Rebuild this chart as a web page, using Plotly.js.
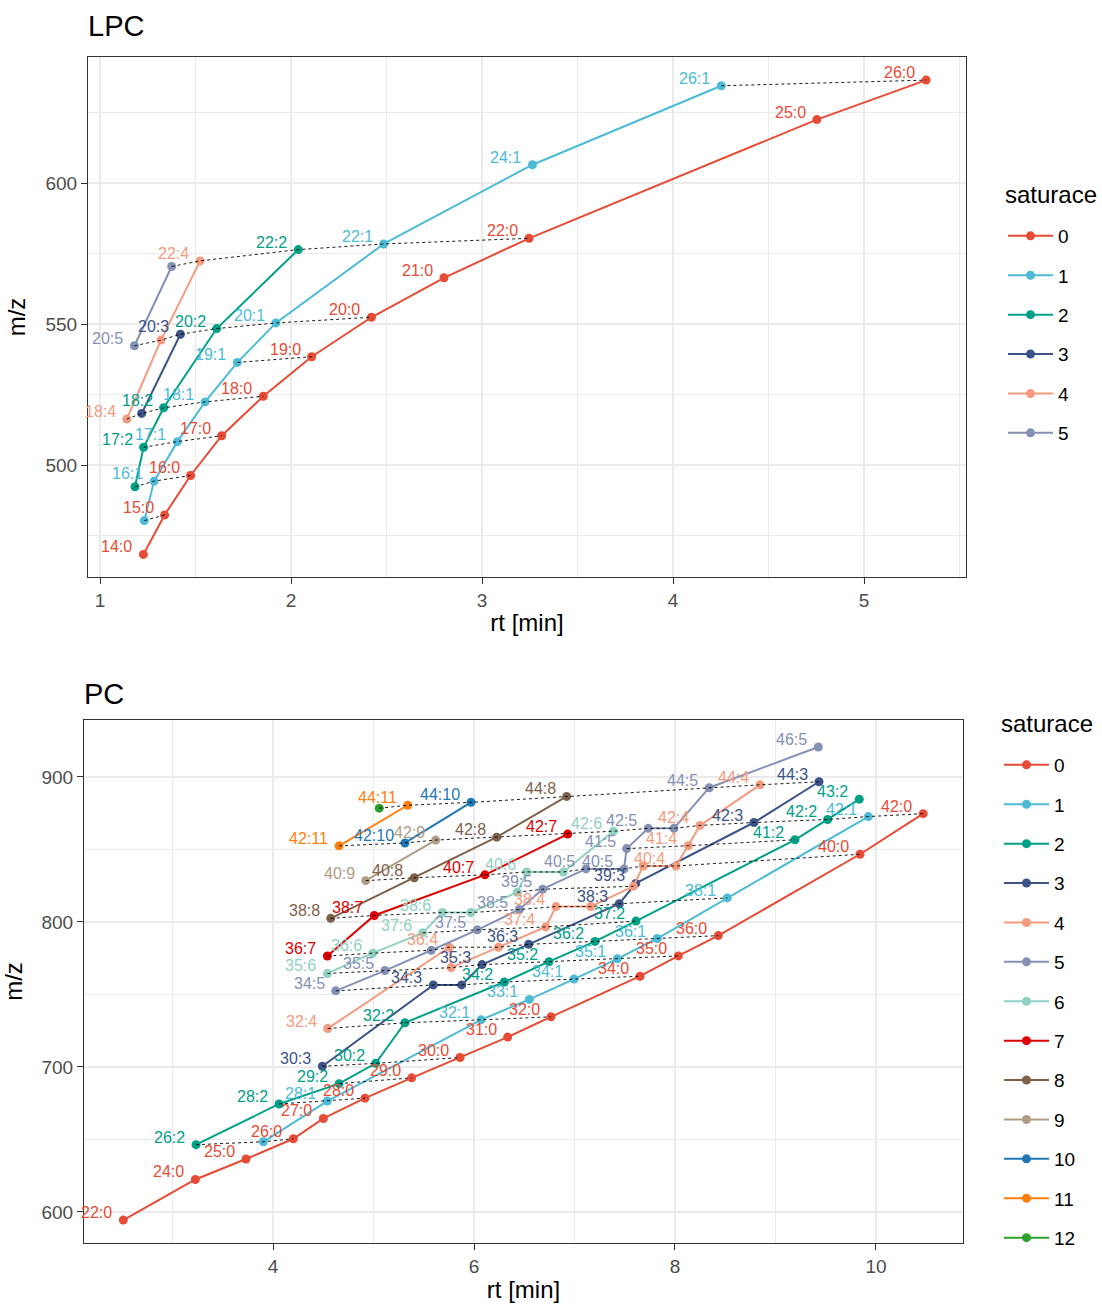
<!DOCTYPE html>
<html><head><meta charset="utf-8">
<script src="https://cdn.plot.ly/plotly-3.0.1.min.js"></script>
<style>html,body{margin:0;padding:0;background:#fff}</style>
</head><body><div id="chart" style="width:1102px;height:1304px"></div>
<script>
// colours per saturation (number of double bonds)
const satColors = ['#E64B35','#4DBBD5','#00A087','#3C5488','#F39B7F','#8491B4','#91D1C2','#DC0000','#7E6148','#B09C85','#1F77B4','#FF7F0E','#2CA02C'];

// ---------- LPC ----------
const lpcLipids = ['14:0','15:0','16:0','17:0','18:0','19:0','20:0','21:0','22:0','25:0','26:0',
  '15:1','16:1','17:1','18:1','19:1','20:1','22:1','24:1','26:1',
  '16:2','17:2','18:2','20:2','22:2',
  '18:3','20:3',
  '18:4','20:4','22:4',
  '20:5','22:5'];
const lpcRt = [1.227,1.338,1.474,1.637,1.855,2.108,2.421,2.801,3.246,4.753,5.325,
  1.232,1.283,1.405,1.550,1.719,1.921,2.485,3.264,4.253,
  1.183,1.228,1.333,1.611,2.038,
  1.218,1.421,
  1.140,1.319,1.524,
  1.180,1.375];
const lpcMz = [468.3,482.3,496.3,510.4,524.4,538.4,552.4,566.4,580.4,622.5,636.5,
  480.3,494.3,508.3,522.4,536.4,550.4,578.4,606.5,634.5,
  492.3,506.3,520.3,548.4,576.4,
  518.3,546.4,
  516.3,544.3,572.4,
  542.3,570.4];
const lpcLabelShown = [1,1,1,1,1,1,1,1,1,1,1,
  0,1,1,1,1,1,1,1,1,
  0,1,1,1,1,
  0,1,
  1,0,1,
  1,0];

// ---------- PC ----------
const pcLipids = [
  '22:0','24:0','25:0','26:0','27:0','28:0','29:0','30:0','31:0','32:0','34:0','35:0','36:0','40:0','42:0',
  '26:1','28:1','32:1','33:1','34:1','35:1','36:1','38:1','42:1',
  '26:2','28:2','29:2','30:2','32:2','34:2','35:2','36:2','37:2','41:2','42:2','43:2',
  '30:3','34:3','34:3','35:3','36:3','38:3','39:3','42:3','44:3',
  '32:4','36:4','35:4','36:4','37:4','38:4','38:4','39:4','40:4','40:4','41:4','42:4','44:4',
  '34:5','35:5','36:5','37:5','38:5','39:5','40:5','40:5','41:5','42:5','42:5','44:5','46:5',
  '35:6','36:6','37:6','38:6','38:6','39:6','40:6','40:6','42:6',
  '36:7','38:7','40:7','42:7',
  '38:8','40:8','42:8','44:8',
  '40:9','42:9',
  '42:10','44:10',
  '42:11','44:11',
  '44:12'];
const pcRt = [
  2.510,3.227,3.731,4.202,4.501,4.915,5.380,5.861,6.335,6.766,7.652,8.033,8.431,9.841,10.470,
  3.904,4.540,6.070,6.551,6.995,7.426,7.824,8.520,9.924,
  3.234,4.060,4.657,5.022,5.313,6.302,6.746,7.204,7.612,9.194,9.519,9.834,
  4.491,5.595,5.877,6.080,6.544,7.446,7.610,8.786,9.433,
  4.544,5.754,5.771,6.243,6.713,6.816,7.161,7.585,7.685,8.010,8.133,8.249,8.846,
  4.624,5.114,5.575,6.033,6.451,6.683,7.114,7.493,7.519,7.734,7.990,8.341,9.426,
  4.541,4.992,5.489,5.685,5.970,6.431,6.524,6.889,7.386,
  4.541,5.008,6.109,6.932,
  4.574,5.406,6.226,6.922,
  4.922,5.619,
  5.313,5.970,
  4.657,5.340,
  5.057];
const pcMz = [
  594.4,622.4,636.5,650.5,664.5,678.5,692.5,706.5,720.6,734.6,762.6,776.6,790.6,846.7,874.7,
  648.4,676.5,732.5,746.6,760.6,774.6,788.6,816.6,872.7,
  646.4,674.5,688.5,702.5,730.5,758.6,772.6,786.6,800.6,856.7,870.7,884.7,
  700.5,756.6,756.6,770.6,784.6,812.6,826.6,868.6,896.7,
  726.5,782.6,768.5,782.6,796.6,810.6,810.6,824.6,838.6,838.6,852.6,866.6,894.6,
  752.5,766.5,780.5,794.6,808.6,822.6,836.6,836.6,850.6,864.6,864.6,892.6,920.7,
  764.5,778.5,792.5,806.5,806.5,820.5,834.5,834.5,862.6,
  776.5,804.5,832.5,860.6,
  802.5,830.5,858.5,886.6,
  828.5,856.5,
  854.5,882.5,
  852.5,880.5,
  878.5];
const pcLabelShown = [
  1,1,1,1,1,1,1,1,1,1,1,1,1,1,1,
  0,1,1,1,1,1,1,1,1,
  1,1,1,1,1,1,1,1,1,1,1,1,
  1,1,0,1,1,1,1,1,1,
  1,1,0,0,1,1,0,0,0,1,1,1,1,
  1,1,0,1,1,1,1,1,1,1,0,1,1,
  1,1,1,1,0,0,1,0,1,
  1,1,1,1,
  1,1,1,1,
  1,1,
  1,1,
  1,1,
  0];

const FONT = '"Liberation Sans", Arial, sans-serif';

function buildPanel(lipids, rt, mz, shown, xa, ya, leg) {
  const series = [], dashed = [], annots = [];
  const bySat = {}, byC = {};
  lipids.forEach((n, i) => {
    const [c, s] = n.split(':').map(Number);
    (bySat[s] = bySat[s] || []).push(i);
    (byC[c] = byC[c] || []).push(i);
  });
  Object.keys(bySat).map(Number).sort((a, b) => a - b).forEach(s => {
    const idx = bySat[s].slice().sort((a, b) => rt[a] - rt[b]);
    series.push({
      type: 'scatter', mode: 'lines+markers',
      x: idx.map(i => rt[i]), y: idx.map(i => mz[i]), text: idx.map(i => lipids[i]),
      name: String(s), legendgroup: leg + '_' + s, legend: leg,
      xaxis: xa, yaxis: ya,
      line: {color: satColors[s], width: 2},
      marker: {color: satColors[s], size: 9},
      hovertemplate: '%{text}<br>rt %{x}<br>m/z %{y}<extra></extra>'
    });
  });
  Object.keys(byC).map(Number).sort((a, b) => a - b).forEach(c => {
    const idx = byC[c].slice().sort((a, b) => rt[a] - rt[b]);
    if (idx.length < 2) return;
    dashed.push({
      type: 'scatter', mode: 'lines', showlegend: false, legend: leg,
      x: idx.map(i => rt[i]), y: idx.map(i => mz[i]),
      xaxis: xa, yaxis: ya,
      line: {color: '#000000', width: 0.9, dash: '3px,3px'},
      hoverinfo: 'skip'
    });
  });
  lipids.forEach((n, i) => {
    if (!shown[i]) return;
    const s = Number(n.split(':')[1]);
    annots.push({
      xref: xa, yref: ya, x: rt[i], y: mz[i], text: n, showarrow: false,
      xanchor: 'right', yanchor: 'bottom', xshift: -9, yshift: -3,
      font: {family: FONT, size: 16, color: satColors[s]}
    });
  });
  return {traces: series.concat(dashed), annots};
}

const lpc = buildPanel(lpcLipids, lpcRt, lpcMz, lpcLabelShown, 'x', 'y', 'legend');
const pc = buildPanel(pcLipids, pcRt, pcMz, pcLabelShown, 'x2', 'y2', 'legend2');

function axisBase() {
  return {
    showgrid: true, gridcolor: '#EBEBEB', gridwidth: 2,
    zeroline: false, showline: true, mirror: true, linecolor: '#333333', linewidth: 1.2,
    ticks: 'outside', ticklen: 6, tickwidth: 1.2, tickcolor: '#333333',
    tickfont: {family: FONT, size: 19, color: '#4D4D4D'}
  };
}
const W = 1102, H = 1304;
const legendBase = {
  xanchor: 'left', yanchor: 'top',
  font: {family: FONT, size: 19, color: '#000'}, tracegroupgap: 11.7, itemwidth: 45,
  bgcolor: 'rgba(0,0,0,0)', traceorder: 'grouped'
};
const layout = {
  width: W, height: H, margin: {l: 0, r: 0, t: 0, b: 0},
  paper_bgcolor: '#ffffff', plot_bgcolor: '#ffffff',
  font: {family: FONT, color: '#000000'},
  showlegend: true,
  xaxis: Object.assign(axisBase(), {
    domain: [88 / W, 966 / W], anchor: 'y', range: [0.937, 5.534], tick0: 1, dtick: 1,
    minor: {dtick: 0.5, showgrid: true, gridcolor: '#EBEBEB', gridwidth: 1},
    title: {text: 'rt [min]', font: {family: FONT, size: 24, color: '#000'}, standoff: 4}
  }),
  yaxis: Object.assign(axisBase(), {
    domain: [1 - 577 / H, 1 - 57 / H], anchor: 'x', range: [460.3, 644.7], tick0: 500, dtick: 50,
    minor: {dtick: 25, showgrid: true, gridcolor: '#EBEBEB', gridwidth: 1},
    title: {text: 'm/z', font: {family: FONT, size: 24, color: '#000'}, standoff: 12}
  }),
  xaxis2: Object.assign(axisBase(), {
    domain: [84 / W, 963 / W], anchor: 'y2', range: [2.119, 10.866], tick0: 0, dtick: 2,
    minor: {dtick: 1, showgrid: true, gridcolor: '#EBEBEB', gridwidth: 1},
    title: {text: 'rt [min]', font: {family: FONT, size: 24, color: '#000'}, standoff: 5}
  }),
  yaxis2: Object.assign(axisBase(), {
    domain: [1 - 1243 / H, 1 - 720 / H], anchor: 'x2', range: [578.6, 939.3], tick0: 600, dtick: 100,
    minor: {dtick: 50, showgrid: true, gridcolor: '#EBEBEB', gridwidth: 1},
    title: {text: 'm/z', font: {family: FONT, size: 24, color: '#000'}, standoff: 12}
  }),
  legend: Object.assign({}, legendBase, {x: 1003 / W, y: 1 - 217 / H}),
  legend2: Object.assign({}, legendBase, {x: 999 / W, y: 1 - 746 / H}),
  annotations: [
    {xref: 'paper', yref: 'paper', x: 86 / W, y: 1 - 26 / H, xanchor: 'left', yanchor: 'middle', showarrow: false,
     text: 'LPC', font: {family: FONT, size: 29, color: '#000'}},
    {xref: 'paper', yref: 'paper', x: 82 / W, y: 1 - 694 / H, xanchor: 'left', yanchor: 'middle', showarrow: false,
     text: 'PC', font: {family: FONT, size: 29, color: '#000'}},
    {xref: 'paper', yref: 'paper', x: 1003 / W, y: 1 - 194 / H, xanchor: 'left', yanchor: 'middle', showarrow: false,
     text: 'saturace', font: {family: FONT, size: 24, color: '#000'}},
    {xref: 'paper', yref: 'paper', x: 999 / W, y: 1 - 723 / H, xanchor: 'left', yanchor: 'middle', showarrow: false,
     text: 'saturace', font: {family: FONT, size: 24, color: '#000'}}
  ].concat(lpc.annots, pc.annots)
};

Plotly.newPlot('chart', lpc.traces.concat(pc.traces), layout, {displayModeBar: false, responsive: false});
</script>
</body></html>
